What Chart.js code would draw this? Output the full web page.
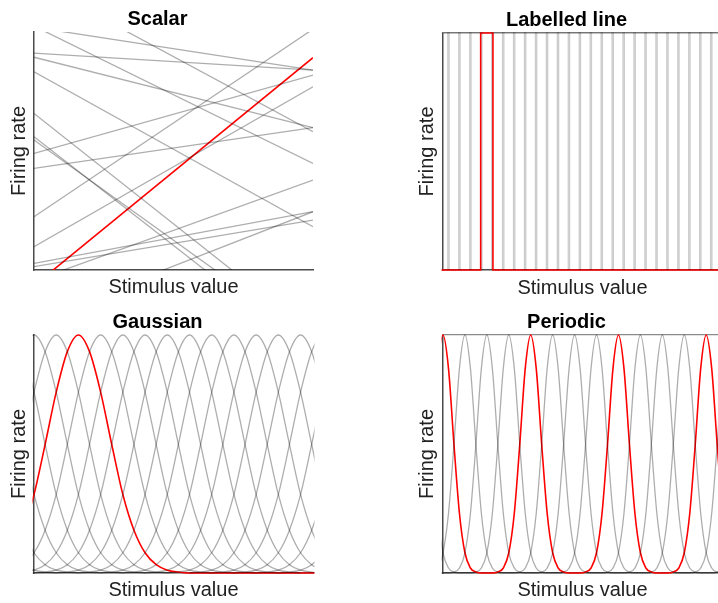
<!DOCTYPE html>
<html><head><meta charset="utf-8">
<script src="https://cdn.jsdelivr.net/npm/chart.js@4.4.1/dist/chart.umd.min.js"></script>
<style>
html,body{margin:0;padding:0;width:718px;height:603px;overflow:hidden;background:#fff;}
canvas{position:absolute;}
</style></head><body>
<canvas id="c1" width="330" height="303" style="left:0px;top:0px"></canvas>
<canvas id="c2" width="330" height="303" style="left:410px;top:0px"></canvas>
<canvas id="c3" width="330" height="305" style="left:0px;top:300px"></canvas>
<canvas id="c4" width="330" height="305" style="left:410px;top:300px"></canvas>
<script>
// ---------------- data ----------------
const panelTitles = ['Scalar', 'Labelled line', 'Gaussian', 'Periodic'];
const xLabel = 'Stimulus value';
const yLabel = 'Firing rate';

// Scalar: each gray neuron is a straight line; value at stimulus 0 and at stimulus 1
const scalarStart = [0.911, 1.020, 0.894, 1.025, 1.212, 0.833, 0.658, 0.560, 0.546, 0.490, 0.427, 0.224, 0.098, 0.028, 0.014, -0.045, -0.212];
const scalarEnd   = [0.840, 0.840, 0.598, 0.448, 0.581, 0.182, -0.270, -0.354, -0.296, 0.819, 0.598, 1.012, 0.770, 0.245, 0.210, 0.378, 0.245];
const scalarRed   = [-0.066, 0.892];
const scalarXMax = 1;

// Labelled line: box tuning curves at integer preferred values
const labelledCenters = [0,1,2,3,4,5,6,7,8,9,10,11,12,13,14,15,16,17,18,19,20,21,22,23,24,25,26];
const labelledRedCenter = 4;
const labelledHalfWidth = 0.56;
const labelledXMax = 25.48;

// Gaussian: preferred values and the tuning profile (offset from preferred value -> rate)
const gaussCenters = [-6,-5,-4,-3,-2,-1,0,1,3,4,5,6,7,8,9,10,11,12,13,14,15,16];
const gaussRedCenter = 2;
const gaussOffsets = [-5,-4.5,-4,-3.5,-3,-2.5,-2,-1.5,-1,-0.5,0,0.5,1,1.5,2,2.5,3,3.5,4,4.5,5];
const gaussProfile = [0,0.004,0.012,0.035,0.085,0.18,0.33,0.54,0.76,0.93,1,0.93,0.76,0.54,0.33,0.18,0.085,0.035,0.012,0.004,0];
const gaussXMax = 12.56;

// Periodic: period 4, four phases (0 = red), one period of the profile
const periodicPeriod = 4;
const periodicGrayPhases = [1, 2, 3];
const periodicRedPhase = 0;
const periodicOffsets = [-2,-1.75,-1.5,-1.25,-1,-0.75,-0.5,-0.25,0,0.25,0.5,0.75,1,1.25,1.5,1.75];
const periodicProfile = [0,0,0.004,0.021,0.085,0.25,0.54,0.86,1,0.86,0.54,0.25,0.085,0.021,0.004,0];
const periodicCycles = [-1,0,1,2,3,4];
const periodicXMax = 12.72;

// ---------------- styles ----------------
const FONT = "'Liberation Sans', Arial, Helvetica, sans-serif";
const GRAY = 'rgba(0,0,0,0.32)';
const LIGHTGRAY = 'rgba(0,0,0,0.2)';
const RED = '#ff0000';
const AXIS = '#4a4a4a';

function grayLine(data, smooth, color, clip) {
  return {data, borderColor: color || GRAY, borderWidth: 1.3, pointRadius: 0, fill: false,
          clip: clip === undefined ? 1.5 : clip,
          tension: 0, cubicInterpolationMode: smooth ? 'monotone' : 'default'};
}
function redLine(data, smooth, clip) {
  return {data, borderColor: RED, borderWidth: 1.6, pointRadius: 0, fill: false,
          clip: clip === undefined ? 1.5 : clip,
          tension: 0, cubicInterpolationMode: smooth ? 'monotone' : 'default'};
}

function makeOptions(p) {
  const scales = {
    x: {type: 'linear', position: 'bottom', min: 0, max: p.xMax,
        ticks: {display: false}, grid: {display: false, drawTicks: false},
        border: {display: true, color: AXIS, width: 1.5},
        title: {display: true, text: xLabel, color: '#222', font: {family: FONT, size: 20},
                padding: {top: p.xt[0], bottom: p.xt[1]}}},
    y: {type: 'linear', position: 'left', min: 0, max: 1,
        ticks: {display: false}, grid: {display: false, drawTicks: false},
        border: {display: true, color: AXIS, width: 1.5},
        title: {display: true, text: yLabel, color: '#222', font: {family: FONT, size: 20},
                padding: {top: p.yt[0], bottom: p.yt[1]}}}
  };
  if (p.topBorder) {
    scales.xTop = {type: 'linear', position: 'top', min: 0, max: p.xMax, display: true,
        ticks: {display: false}, grid: {display: false, drawTicks: false},
        border: {display: true, color: '#8a8a8a', width: 1.2}};
  }
  return {
    responsive: false, animation: false, events: [],
    layout: {padding: {left: p.pl, right: p.pr, top: 0, bottom: p.pb}},
    plugins: {
      legend: {display: false}, tooltip: {enabled: false},
      title: {display: true, text: p.title, color: '#000',
              font: {family: FONT, size: 20, weight: 'bold'},
              padding: {top: p.tt[0], bottom: p.tt[1]}}
    },
    elements: {point: {radius: 0}},
    scales
  };
}

// ---------------- Scalar ----------------
const scalarSets = scalarStart.map((s, i) => grayLine([{x: 0, y: s}, {x: scalarXMax, y: scalarEnd[i]}], false, GRAY, 0));
scalarSets.push(redLine([{x: 0, y: scalarRed[0]}, {x: scalarXMax, y: scalarRed[1]}], false, 0));
new Chart(document.getElementById('c1'), {
  type: 'line', data: {datasets: scalarSets},
  options: makeOptions({title: panelTitles[0], xMax: scalarXMax, pl: 2, pr: 17, pb: 1,
    tt: [7.7, 0.3], xt: [5.5, 2.5], yt: [5, 3], topBorder: false})
});

// ---------------- Labelled line ----------------
function boxPoints(c) {
  return [{x: c - labelledHalfWidth, y: 0}, {x: c - labelledHalfWidth, y: 1},
          {x: c + labelledHalfWidth, y: 1}, {x: c + labelledHalfWidth, y: 0}];
}
const labelledSets = labelledCenters.filter(c => c !== labelledRedCenter).map(c => grayLine(boxPoints(c), false, LIGHTGRAY));
labelledSets.push(redLine([{x: -1, y: 0}].concat(boxPoints(labelledRedCenter), [{x: labelledXMax + 2, y: 0}]), false));
new Chart(document.getElementById('c2'), {
  type: 'line', data: {datasets: labelledSets},
  options: makeOptions({title: panelTitles[1], xMax: labelledXMax, pl: 1, pr: 18, pb: 1,
    tt: [8, 1], xt: [6.3, 1.7], yt: [4.5, 3.5], topBorder: true})
});

// ---------------- Gaussian ----------------
function gaussPoints(c) {
  return gaussOffsets.map((o, i) => ({x: c + o, y: gaussProfile[i]}));
}
const gaussSets = gaussCenters.map(c => grayLine(gaussPoints(c), true));
gaussSets.push(redLine(gaussPoints(gaussRedCenter).concat([{x: gaussXMax + 1, y: 0}]), true));
new Chart(document.getElementById('c3'), {
  type: 'line', data: {datasets: gaussSets},
  options: makeOptions({title: panelTitles[2], xMax: gaussXMax, pl: 2, pr: 17, pb: 0,
    tt: [10.5, 0.5], xt: [5.8, 2.2], yt: [5, 3], topBorder: false})
});

// ---------------- Periodic ----------------
function periodicPoints(phase) {
  const pts = [];
  periodicCycles.forEach(m => {
    periodicOffsets.forEach((o, i) => pts.push({x: phase + m * periodicPeriod + o, y: periodicProfile[i]}));
  });
  return pts;
}
const periodicSets = periodicGrayPhases.map(ph => grayLine(periodicPoints(ph), true));
periodicSets.push(redLine(periodicPoints(periodicRedPhase), true));
new Chart(document.getElementById('c4'), {
  type: 'line', data: {datasets: periodicSets},
  options: makeOptions({title: panelTitles[3], xMax: periodicXMax, pl: 1, pr: 18, pb: 0,
    tt: [10.5, 0.5], xt: [5.8, 2.2], yt: [4.5, 3.5], topBorder: true})
});
</script>
</body></html>
